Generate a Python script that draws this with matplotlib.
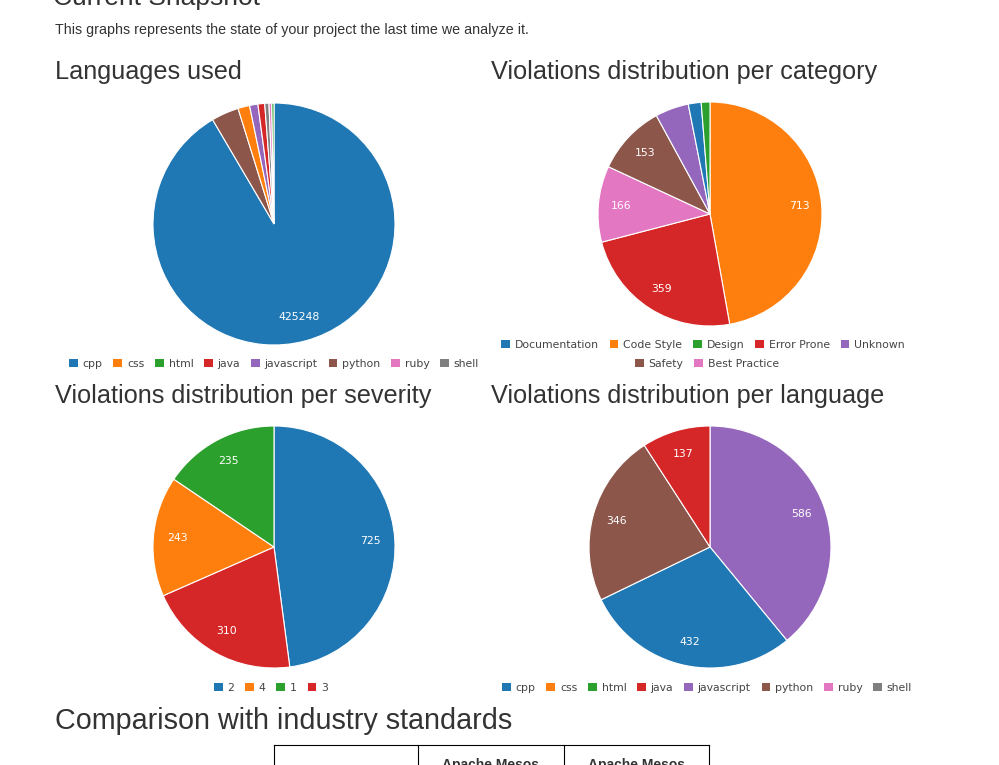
import matplotlib
matplotlib.use("Agg")
import matplotlib.pyplot as plt
from matplotlib.patches import Patch
from matplotlib.lines import Line2D

# dane
lang_names = ['cpp', 'css', 'html', 'java', 'javascript', 'python', 'ruby', 'shell']
lang_lines = [425248, 7240, 1390, 4180, 5175, 17020, 1680, 2630]

cat_names = ['Documentation', 'Code Style', 'Design', 'Error Prone', 'Unknown',
             'Safety', 'Best Practice']
cat_values = [28, 713, 19, 359, 73, 153, 166]

sev_names = ['2', '4', '1', '3']
sev_values = [725, 243, 235, 310]

lang_viol = [432, 0, 0, 137, 586, 346, 0, 0]

colors = ['#1f77b4', '#ff7f0e', '#2ca02c', '#d62728', '#9467bd', '#8c564b',
          '#e377c2', '#7f7f7f']

W, H = 999, 765
fig = plt.figure(figsize=(W / 100, H / 100), dpi=100)
fig.patch.set_facecolor('white')

head_font = ['Liberation Sans', 'DejaVu Sans']
txt_col = '#333333'


def fx(x):
    return x / W


def fy(y):
    return 1 - y / H


def pie_axes(cx, cy, r):
    return fig.add_axes([fx(cx - r), fy(cy + r), 2 * r / W, 2 * r / H])


def draw_pie(cx, cy, r, values, cols):
    # plotly: sortowanie malejąco, zgodnie z ruchem wskazówek zegara od góry
    pairs = [(v, c) for v, c in zip(values, cols) if v > 0]
    pairs.sort(key=lambda p: -p[0])
    vals = [p[0] for p in pairs]
    total = sum(vals)

    def fmt(pct):
        if pct < 5:
            return ''
        return '%d' % round(pct * total / 100)

    ax = pie_axes(cx, cy, r)
    ax.pie(vals, colors=[p[1] for p in pairs], startangle=90, counterclock=False,
           autopct=fmt, pctdistance=0.8, radius=1,
           wedgeprops=dict(edgecolor='white', linewidth=0.8),
           textprops=dict(color='white', fontsize=7.8, family='DejaVu Sans'))
    ax.set_xlim(-1, 1)
    ax.set_ylim(-1, 1)
    ax.axis('off')
    return ax


def legend(names, cols, cx, cy):
    handles = [Patch(facecolor=c, edgecolor='none') for c in cols]
    fig.legend(handles, names, loc='center', bbox_to_anchor=(fx(cx), fy(cy)),
               ncol=len(names), frameon=False,
               handlelength=0.8, handleheight=0.8, handletextpad=0.45,
               columnspacing=1.0, borderpad=0, borderaxespad=0,
               labelcolor='#444444', prop={'family': 'DejaVu Sans', 'size': 7.8})


# nagłówki
fig.text(fx(53), fy(5), 'Current Snapshot', fontsize=19, family=head_font,
         color=txt_col, va='baseline')
fig.text(fx(55), fy(34), 'This graphs represents the state of your project the last time we analyze it.',
         fontsize=10.25, family=head_font, color=txt_col, va='baseline')
fig.text(fx(55), fy(79), 'Languages used', fontsize=18.2, family=head_font,
         color=txt_col, va='baseline')
fig.text(fx(491), fy(79), 'Violations distribution per category', fontsize=18.2,
         family=head_font, color=txt_col, va='baseline')
fig.text(fx(55), fy(403), 'Violations distribution per severity', fontsize=18.2,
         family=head_font, color=txt_col, va='baseline')
fig.text(fx(491), fy(403), 'Violations distribution per language', fontsize=18.2,
         family=head_font, color=txt_col, va='baseline')
fig.text(fx(55), fy(729), 'Comparison with industry standards', fontsize=20.7,
         family=head_font, color=txt_col, va='baseline')

# wykresy kołowe
draw_pie(274, 224, 121, lang_lines, colors)
legend(lang_names, colors, 274, 364)

draw_pie(710, 214, 112, cat_values, colors[:7])
legend(cat_names[:5], colors[:5], 703, 345)
legend(cat_names[5:], colors[5:7], 707, 364)

draw_pie(274, 547, 121, sev_values, colors[:4])
legend(sev_names, colors[:4], 271, 688)

draw_pie(710, 547, 121, lang_viol, colors)
legend(lang_names, colors, 707, 688)

# początek tabeli
fig.add_artist(Line2D([fx(274), fx(709)], [fy(745), fy(745)], color='black', linewidth=0.8))
for x in [274, 418, 564, 709]:
    fig.add_artist(Line2D([fx(x), fx(x)], [fy(745), fy(766)], color='black', linewidth=0.8))
for x in [491, 637]:
    fig.text(fx(x), fy(769), 'Apache Mesos', fontsize=10, fontweight='bold',
             family=head_font, color=txt_col, ha='center', va='baseline')

fig.savefig('out.png', dpi=100)
